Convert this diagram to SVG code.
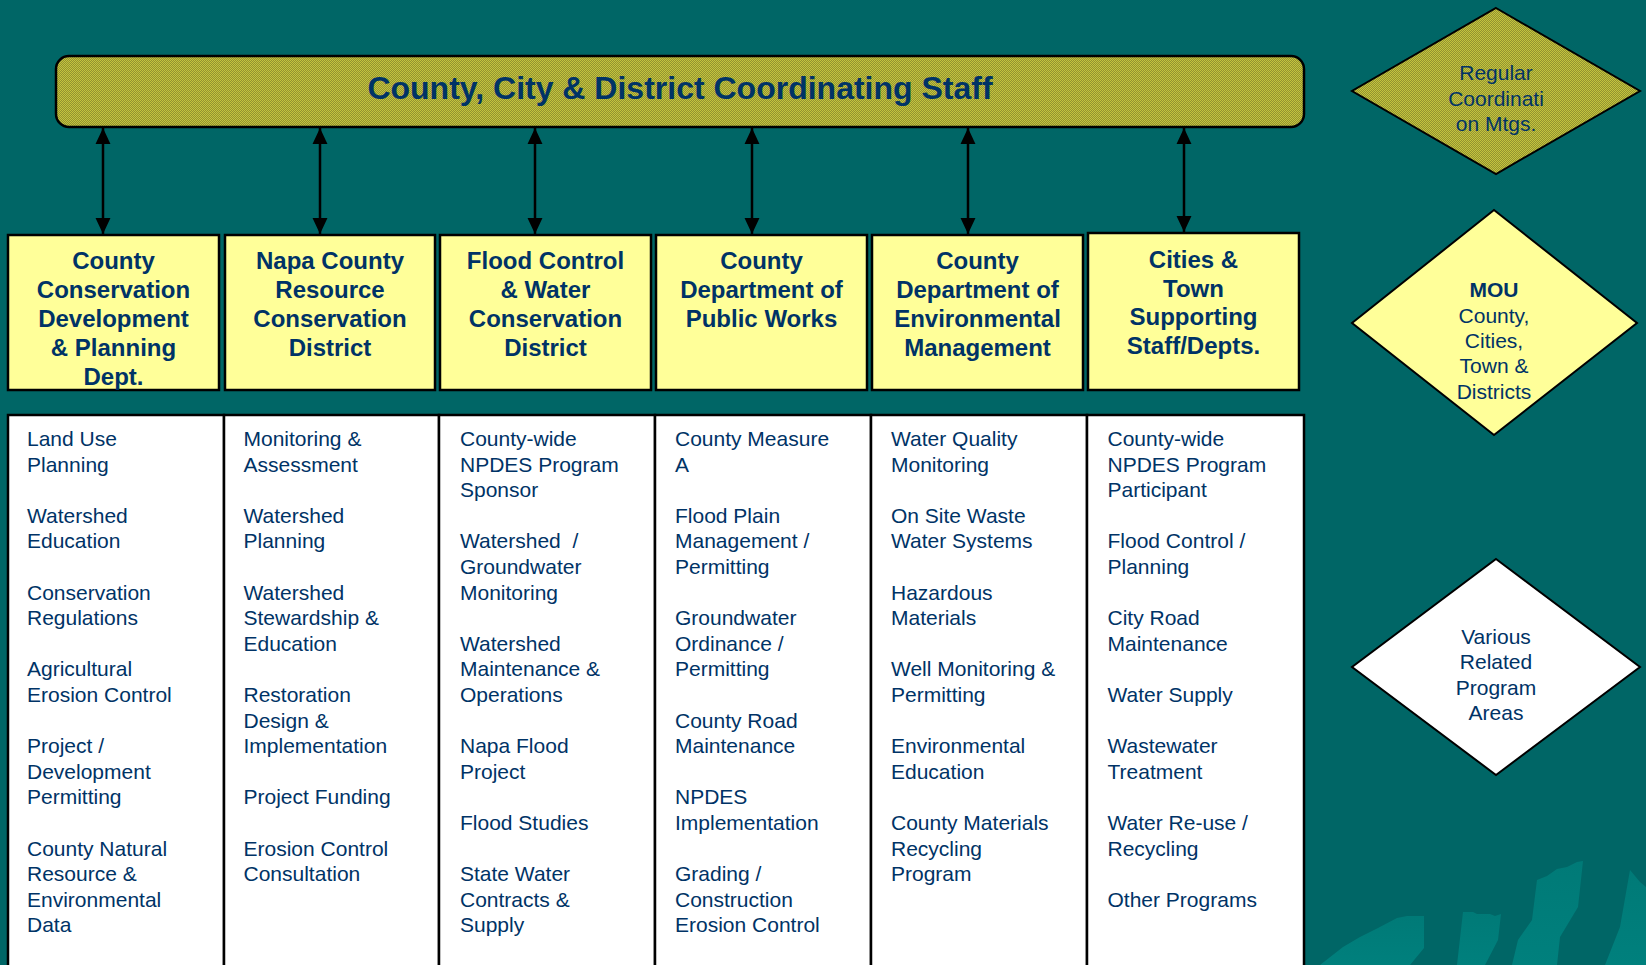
<svg xmlns="http://www.w3.org/2000/svg" width="1646" height="965" viewBox="0 0 1646 965">
<style>
.hdr{fill:#ffff99;stroke:#000;stroke-width:2.5}
.col{fill:#fff;stroke:#000;stroke-width:2.5}
.ht{font-family:"Liberation Sans",Arial,sans-serif;font-weight:bold;font-size:24px;fill:#003366;text-anchor:middle}
.bt{font-family:"Liberation Sans",Arial,sans-serif;font-size:21px;fill:#003366}
.dt{font-family:"Liberation Sans",Arial,sans-serif;font-size:21px;fill:#003366;text-anchor:middle}
.conn{stroke:#000;stroke-width:2.5;fill:none;marker-start:url(#ah);marker-end:url(#ah)}
.deco{fill:url(#decoGrad)}
</style>
<defs>
<pattern id="dither" width="2" height="2" patternUnits="userSpaceOnUse">
<rect width="2" height="2" fill="#939330"/>
<rect width="1" height="1" fill="#c4c43e"/>
<rect x="1" y="1" width="1" height="1" fill="#c4c43e"/>
</pattern>
<linearGradient id="decoGrad" x1="0" y1="0" x2="0" y2="1">
<stop offset="0" stop-color="#007a77"/>
<stop offset="1" stop-color="#00807d"/>
</linearGradient>
<marker id="ah" markerUnits="userSpaceOnUse" markerWidth="16" markerHeight="16" viewBox="0 0 15 14" refX="15" refY="7" orient="auto-start-reverse">
<path d="M0,0 L15,7 L0,14 z" fill="#000"/>
</marker>
</defs>
<rect width="1646" height="965" fill="#006666"/>
<g id="decor">
<path class="deco" d="M1320,965 L1343,947 L1360,937 L1378,928 L1397,918 L1407,916 L1424,916 L1424,948 L1410,965 Z"/>
<path class="deco" d="M1457,965 L1463,912 L1473,912 L1477,914 L1490,914 L1495,916 L1501,914 L1498,940 L1485,965 Z"/>
<path class="deco" d="M1512,965 L1518,940 L1532,920 L1537,880 L1547,876 L1557,869 L1567,867 L1577,862 L1583,861 L1578,907 L1560,937 L1557,965 Z"/>
<path class="deco" d="M1605,965 L1620,927 L1630,870 L1640,882 L1646,887 L1646,965 Z"/>
</g>
<g id="coordinating-staff">
<rect x="56" y="56" width="1248" height="71" rx="13" fill="url(#dither)" stroke="#000" stroke-width="2.5"/>
<text x="680" y="99" style="font-family:'Liberation Sans',Arial,sans-serif;font-weight:bold;font-size:32px;fill:#003366;text-anchor:middle">County, City &amp; District Coordinating Staff</text>
</g>
<g id="connectors">
<line class="conn" x1="103" y1="128" x2="103" y2="234"/>
<line class="conn" x1="320" y1="128" x2="320" y2="234"/>
<line class="conn" x1="535" y1="128" x2="535" y2="234"/>
<line class="conn" x1="752" y1="128" x2="752" y2="234"/>
<line class="conn" x1="968" y1="128" x2="968" y2="234"/>
<line class="conn" x1="1184" y1="128" x2="1184" y2="232"/>
</g>
<g id="h1">
<rect class="hdr" x="8" y="235" width="211" height="155"/>
<text class="ht" x="113.5" y="269">County</text>
<text class="ht" x="113.5" y="298">Conservation</text>
<text class="ht" x="113.5" y="327">Development</text>
<text class="ht" x="113.5" y="356">&amp; Planning</text>
<text class="ht" x="113.5" y="385">Dept.</text>
</g>
<g id="h2">
<rect class="hdr" x="225" y="235" width="210" height="155"/>
<text class="ht" x="330" y="269">Napa County</text>
<text class="ht" x="330" y="298">Resource</text>
<text class="ht" x="330" y="327">Conservation</text>
<text class="ht" x="330" y="356">District</text>
</g>
<g id="h3">
<rect class="hdr" x="440" y="235" width="211" height="155"/>
<text class="ht" x="545.5" y="269">Flood Control</text>
<text class="ht" x="545.5" y="298">&amp; Water</text>
<text class="ht" x="545.5" y="327">Conservation</text>
<text class="ht" x="545.5" y="356">District</text>
</g>
<g id="h4">
<rect class="hdr" x="656" y="235" width="211" height="155"/>
<text class="ht" x="761.5" y="269">County</text>
<text class="ht" x="761.5" y="298">Department of</text>
<text class="ht" x="761.5" y="327">Public Works</text>
</g>
<g id="h5">
<rect class="hdr" x="872" y="235" width="211" height="155"/>
<text class="ht" x="977.5" y="269">County</text>
<text class="ht" x="977.5" y="298">Department of</text>
<text class="ht" x="977.5" y="327">Environmental</text>
<text class="ht" x="977.5" y="356">Management</text>
</g>
<g id="h6">
<rect class="hdr" x="1088" y="233" width="211" height="157"/>
<text class="ht" x="1193.5" y="268">Cities &amp;</text>
<text class="ht" x="1193.5" y="297">Town</text>
<text class="ht" x="1193.5" y="325">Supporting</text>
<text class="ht" x="1193.5" y="354">Staff/Depts.</text>
</g>
<g id="c1">
<rect class="col" x="8" y="415" width="216" height="570"/>
<text class="bt" x="27" y="446">Land Use</text>
<text class="bt" x="27" y="471.6">Planning</text>
<text class="bt" x="27" y="522.8">Watershed</text>
<text class="bt" x="27" y="548.4">Education</text>
<text class="bt" x="27" y="599.6">Conservation</text>
<text class="bt" x="27" y="625.2">Regulations</text>
<text class="bt" x="27" y="676.4">Agricultural</text>
<text class="bt" x="27" y="702">Erosion Control</text>
<text class="bt" x="27" y="753.2">Project /</text>
<text class="bt" x="27" y="778.8">Development</text>
<text class="bt" x="27" y="804.4">Permitting</text>
<text class="bt" x="27" y="855.6">County Natural</text>
<text class="bt" x="27" y="881.2">Resource &amp;</text>
<text class="bt" x="27" y="906.8">Environmental</text>
<text class="bt" x="27" y="932.4">Data</text>
</g>
<g id="c2">
<rect class="col" x="224" y="415" width="215" height="570"/>
<text class="bt" x="243.5" y="446">Monitoring &amp;</text>
<text class="bt" x="243.5" y="471.6">Assessment</text>
<text class="bt" x="243.5" y="522.8">Watershed</text>
<text class="bt" x="243.5" y="548.4">Planning</text>
<text class="bt" x="243.5" y="599.6">Watershed</text>
<text class="bt" x="243.5" y="625.2">Stewardship &amp;</text>
<text class="bt" x="243.5" y="650.8">Education</text>
<text class="bt" x="243.5" y="702">Restoration</text>
<text class="bt" x="243.5" y="727.6">Design &amp;</text>
<text class="bt" x="243.5" y="753.2">Implementation</text>
<text class="bt" x="243.5" y="804.4">Project Funding</text>
<text class="bt" x="243.5" y="855.6">Erosion Control</text>
<text class="bt" x="243.5" y="881.2">Consultation</text>
</g>
<g id="c3">
<rect class="col" x="439" y="415" width="216" height="570"/>
<text class="bt" x="460" y="446">County-wide</text>
<text class="bt" x="460" y="471.6">NPDES Program</text>
<text class="bt" x="460" y="497.2">Sponsor</text>
<text class="bt" x="460" y="548.4" xml:space="preserve">Watershed  /</text>
<text class="bt" x="460" y="574">Groundwater</text>
<text class="bt" x="460" y="599.6">Monitoring</text>
<text class="bt" x="460" y="650.8">Watershed</text>
<text class="bt" x="460" y="676.4">Maintenance &amp;</text>
<text class="bt" x="460" y="702">Operations</text>
<text class="bt" x="460" y="753.2">Napa Flood</text>
<text class="bt" x="460" y="778.8">Project</text>
<text class="bt" x="460" y="830">Flood Studies</text>
<text class="bt" x="460" y="881.2">State Water</text>
<text class="bt" x="460" y="906.8">Contracts &amp;</text>
<text class="bt" x="460" y="932.4">Supply</text>
</g>
<g id="c4">
<rect class="col" x="655" y="415" width="216" height="570"/>
<text class="bt" x="675" y="446">County Measure</text>
<text class="bt" x="675" y="471.6">A</text>
<text class="bt" x="675" y="522.8">Flood Plain</text>
<text class="bt" x="675" y="548.4">Management /</text>
<text class="bt" x="675" y="574">Permitting</text>
<text class="bt" x="675" y="625.2">Groundwater</text>
<text class="bt" x="675" y="650.8">Ordinance /</text>
<text class="bt" x="675" y="676.4">Permitting</text>
<text class="bt" x="675" y="727.6">County Road</text>
<text class="bt" x="675" y="753.2">Maintenance</text>
<text class="bt" x="675" y="804.4">NPDES</text>
<text class="bt" x="675" y="830">Implementation</text>
<text class="bt" x="675" y="881.2">Grading /</text>
<text class="bt" x="675" y="906.8">Construction</text>
<text class="bt" x="675" y="932.4">Erosion Control</text>
</g>
<g id="c5">
<rect class="col" x="871" y="415" width="216" height="570"/>
<text class="bt" x="891" y="446">Water Quality</text>
<text class="bt" x="891" y="471.6">Monitoring</text>
<text class="bt" x="891" y="522.8">On Site Waste</text>
<text class="bt" x="891" y="548.4">Water Systems</text>
<text class="bt" x="891" y="599.6">Hazardous</text>
<text class="bt" x="891" y="625.2">Materials</text>
<text class="bt" x="891" y="676.4">Well Monitoring &amp;</text>
<text class="bt" x="891" y="702">Permitting</text>
<text class="bt" x="891" y="753.2">Environmental</text>
<text class="bt" x="891" y="778.8">Education</text>
<text class="bt" x="891" y="830">County Materials</text>
<text class="bt" x="891" y="855.6">Recycling</text>
<text class="bt" x="891" y="881.2">Program</text>
</g>
<g id="c6">
<rect class="col" x="1087" y="415" width="217" height="570"/>
<text class="bt" x="1107.5" y="446">County-wide</text>
<text class="bt" x="1107.5" y="471.6">NPDES Program</text>
<text class="bt" x="1107.5" y="497.2">Participant</text>
<text class="bt" x="1107.5" y="548.4">Flood Control /</text>
<text class="bt" x="1107.5" y="574">Planning</text>
<text class="bt" x="1107.5" y="625.2">City Road</text>
<text class="bt" x="1107.5" y="650.8">Maintenance</text>
<text class="bt" x="1107.5" y="702">Water Supply</text>
<text class="bt" x="1107.5" y="753.2">Wastewater</text>
<text class="bt" x="1107.5" y="778.8">Treatment</text>
<text class="bt" x="1107.5" y="830">Water Re-use /</text>
<text class="bt" x="1107.5" y="855.6">Recycling</text>
<text class="bt" x="1107.5" y="906.8">Other Programs</text>
</g>
<g id="d1">
<polygon points="1496,8 1640,91 1496,174 1352,91" fill="url(#dither)" stroke="#000" stroke-width="2"/>
<text class="dt" x="1496" y="80">Regular</text>
<text class="dt" x="1496" y="105.5">Coordinati</text>
<text class="dt" x="1496" y="131">on Mtgs.</text>
</g>
<g id="d2">
<polygon points="1494,210 1637,323 1494,435 1352,323" fill="#ffff99" stroke="#000" stroke-width="2"/>
<text class="dt" x="1494" y="297" font-weight="bold">MOU</text>
<text class="dt" x="1494" y="323">County,</text>
<text class="dt" x="1494" y="348">Cities,</text>
<text class="dt" x="1494" y="373">Town &amp;</text>
<text class="dt" x="1494" y="399">Districts</text>
</g>
<g id="d3">
<polygon points="1496,559 1640,667 1496,775 1352,667" fill="#fff" stroke="#000" stroke-width="2"/>
<text class="dt" x="1496" y="644">Various</text>
<text class="dt" x="1496" y="669">Related</text>
<text class="dt" x="1496" y="695">Program</text>
<text class="dt" x="1496" y="720">Areas</text>
</g>
</svg>
